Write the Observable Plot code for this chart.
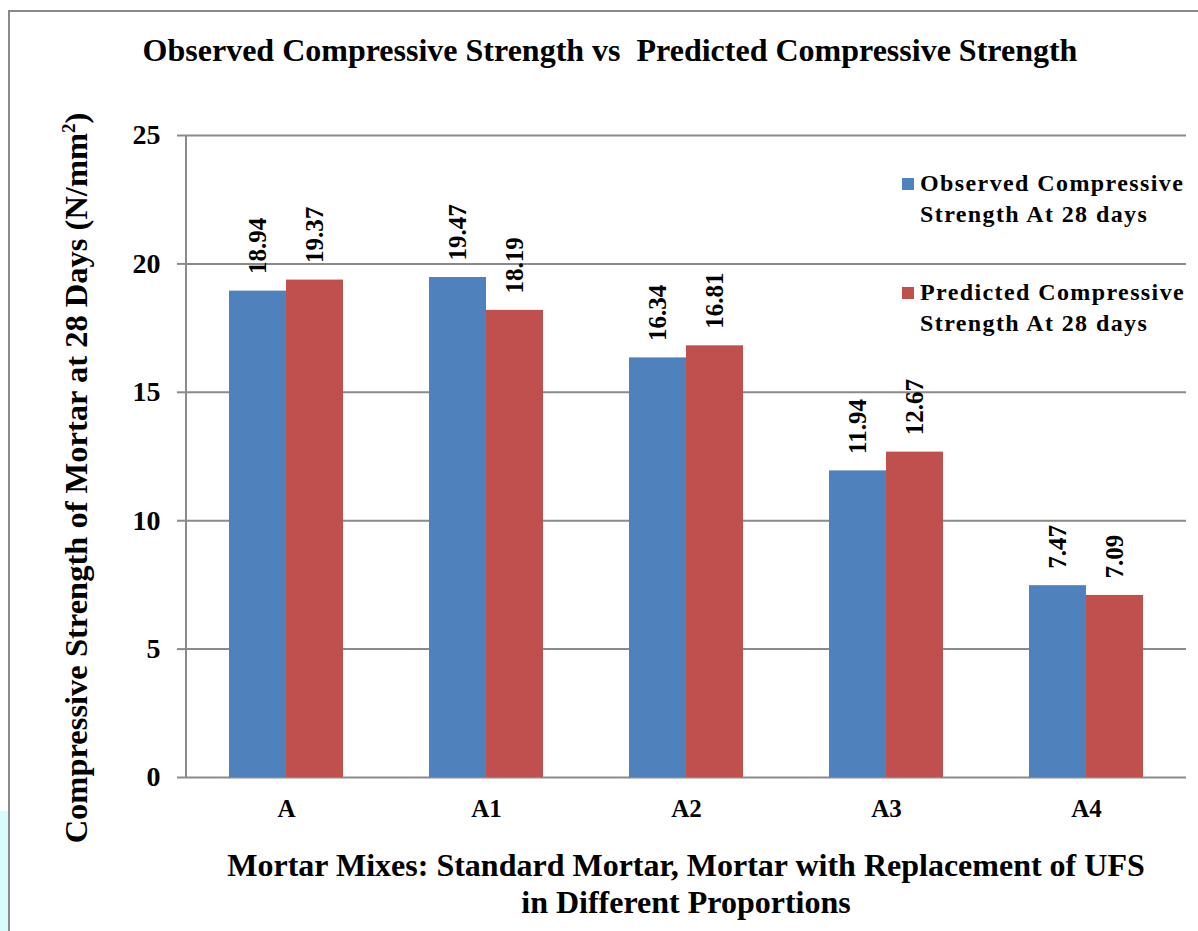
<!DOCTYPE html>
<html>
<head>
<meta charset="utf-8">
<script src="https://cdn.jsdelivr.net/npm/d3@7"></script>
<script src="https://cdn.jsdelivr.net/npm/@observablehq/plot@0.6"></script>
<style>
  html, body { margin: 0; padding: 0; background: #ffffff; }
  #wrap { position: relative; width: 1198px; height: 931px; overflow: hidden; background: #ffffff; font-family: "Liberation Serif", "Times New Roman", serif; }
  #wrap svg { position: absolute; left: 0; top: 0; }
  #frameline { position: absolute; left: 8px; top: 10px; width: 1300px; height: 1000px; border-top: 2px solid #8a8a8a; border-left: 2px solid #8a8a8a; }
  #cyan { position: absolute; left: 0; top: 811px; width: 8px; height: 130px; background: #d6fcfc; }
</style>
</head>
<body>
<div id="wrap">
  <div id="cyan"></div>
  <div id="frameline"></div>
</div>
<script>
// ---- data ----
const mixes = ["A", "A1", "A2", "A3", "A4"];
const seriesNames = ["Observed Compressive Strength At 28 days", "Predicted Compressive Strength At 28 days"];
const seriesKeys = ["Observed", "Predicted"];
const observed = [18.94, 19.47, 16.34, 11.94, 7.47];
const predicted = [19.37, 18.19, 16.81, 12.67, 7.09];
const yTicks = [0, 5, 10, 15, 20, 25];
const colors = ["#4F81BD", "#C0504D"];
const titleText = "Observed Compressive Strength vs  Predicted Compressive Strength";
const yLabel = "Compressive Strength of Mortar at 28 Days (N/mm";
const xTitle = ["Mortar Mixes: Standard Mortar, Mortar with Replacement of UFS", "in Different Proportions"];

const rows = mixes.flatMap((m, i) => [
  {mix: m, series: seriesKeys[0], value: observed[i]},
  {mix: m, series: seriesKeys[1], value: predicted[i]}
]);

const FONT = "Liberation Serif";
const grey = "#8a8a8a";

const chart = Plot.plot({
  width: 1198,
  height: 931,
  marginLeft: 186,
  marginRight: 12,
  marginTop: 135,
  marginBottom: 154,
  style: {fontFamily: FONT, background: "transparent", color: "#000"},
  fx: {domain: mixes, padding: 0, label: null},
  x: {domain: seriesKeys, paddingInner: 0, paddingOuter: 0.754, axis: null},
  y: {domain: [0, 25], axis: null},
  color: {domain: seriesKeys, range: colors},
  marks: [
    Plot.gridY(yTicks, {stroke: grey, strokeOpacity: 1, strokeWidth: 2}),
    Plot.barY(rows, {fx: "mix", x: "series", y: "value", fill: "series", inset: 0}),
    Plot.text(rows, {
      fx: "mix", x: "series", y: "value",
      text: d => d.value.toFixed(2),
      rotate: -90, textAnchor: "start", dy: -17,
      fontSize: 25, fontWeight: "bold", fill: "#000"
    }),
    Plot.axisY(yTicks, {anchor: "left", tickSize: 9, tickPadding: 17, fontSize: 28, fontWeight: "bold", stroke: grey, strokeWidth: 2, label: null, facetAnchor: "left"}),
    Plot.axisFx({anchor: "bottom", tickSize: 0, tickPadding: 22, fontSize: 25, fontWeight: "bold", label: null})
  ]
});
document.getElementById("wrap").appendChild(chart);

// ---- overlay: y axis line, title, y label, x title, legend ----
const ys = chart.scale("y");
const ov = d3.select("#wrap").append("svg")
  .attr("width", 1198).attr("height", 931)
  .style("font-family", FONT).style("font-weight", "bold");

ov.append("line")
  .attr("x1", 186).attr("x2", 186)
  .attr("y1", ys.apply(25)).attr("y2", ys.apply(0))
  .attr("stroke", grey).attr("stroke-width", 2);

ov.append("text").attr("x", 610).attr("y", 61).attr("text-anchor", "middle")
  .attr("font-size", 32).style("white-space", "pre").text(titleText);

const yl = ov.append("text").attr("transform", "translate(87,478) rotate(-90)")
  .attr("text-anchor", "middle").attr("font-size", 32.5);
yl.append("tspan").text(yLabel);
yl.append("tspan").attr("font-size", 19).attr("dy", -12).text("2");
yl.append("tspan").attr("dy", 12).text(")");

xTitle.forEach((t, i) => {
  ov.append("text").attr("x", 686).attr("y", 876 + i * 37).attr("text-anchor", "middle")
    .attr("font-size", 32).text(t);
});

const legendY = [191, 300];
seriesNames.forEach((name, i) => {
  const words = name.split(" ");
  const l1 = words.slice(0, 2).join(" ");
  const l2 = words.slice(2).join(" ");
  ov.append("rect").attr("x", 902).attr("y", legendY[i] - 13).attr("width", 12).attr("height", 12).attr("fill", colors[i]);
  ov.append("text").attr("x", 920).attr("y", legendY[i]).attr("font-size", 24).attr("letter-spacing", 1.4).text(l1);
  ov.append("text").attr("x", 920).attr("y", legendY[i] + 31).attr("font-size", 24).attr("letter-spacing", 1.4).text(l2);
});
</script>
</body>
</html>
